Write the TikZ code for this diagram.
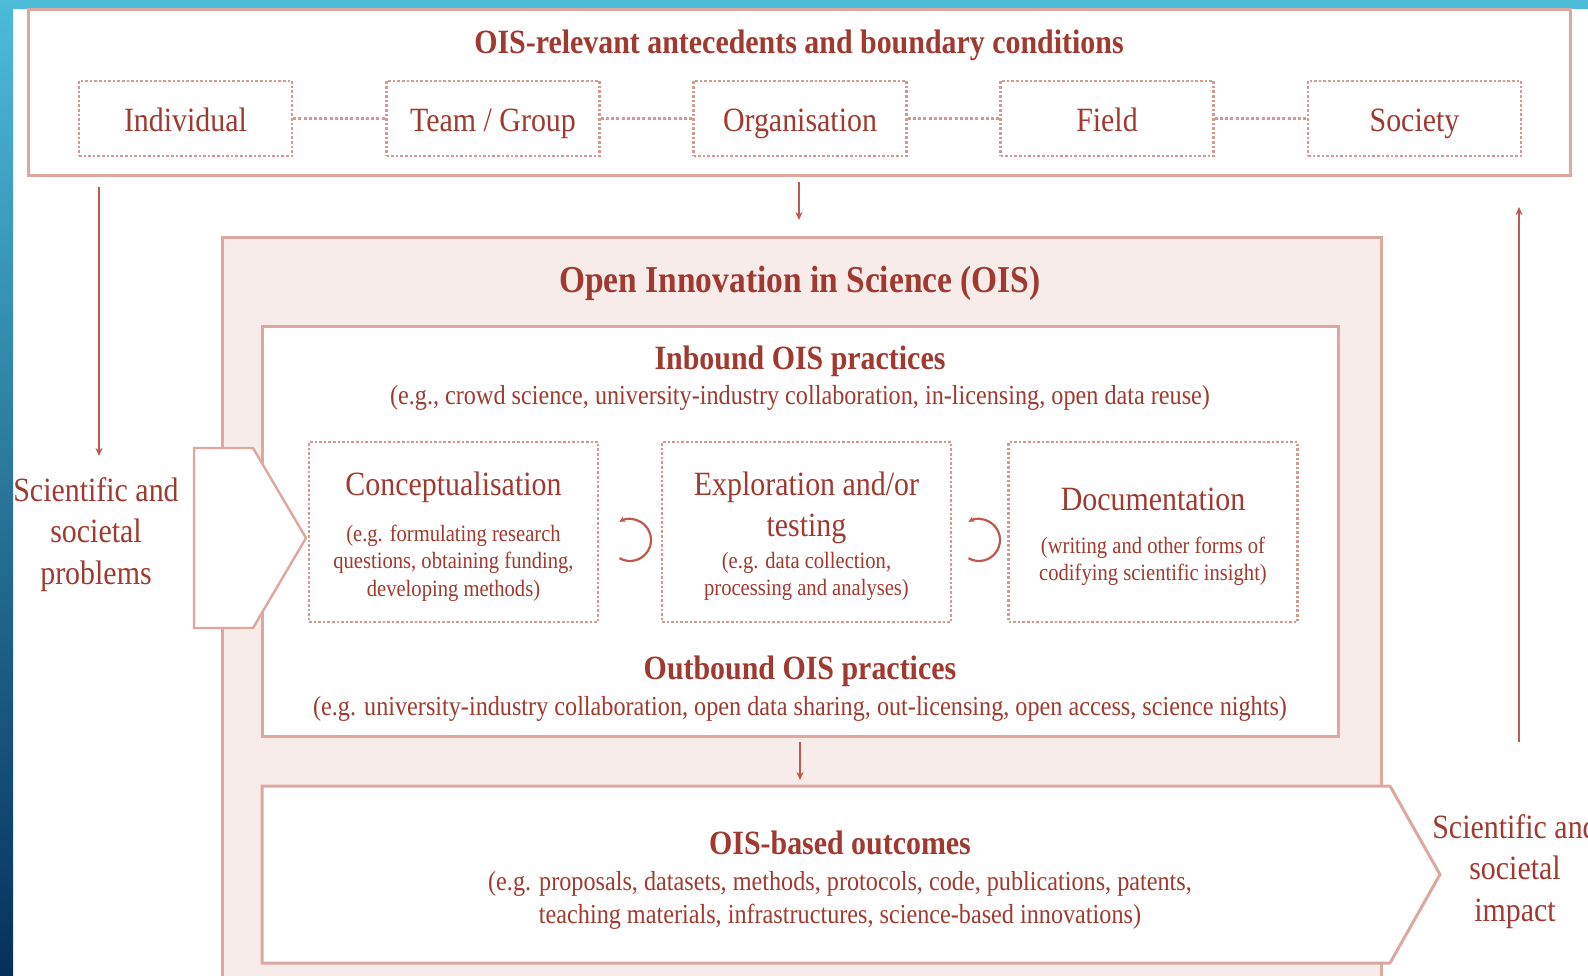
\documentclass[tikz,border=0pt]{standalone}
\usepackage{fontspec}
\setmainfont{Liberation Serif}[FakeStretch=0.88]
\usetikzlibrary{arrows.meta}
\definecolor{txt}{HTML}{A0392F}
\definecolor{bord}{HTML}{DDA8A0}
\definecolor{dotc}{HTML}{D49A92}
\definecolor{fillp}{HTML}{F7ECEA}
\definecolor{arr}{HTML}{C0584D}
\definecolor{skyA}{HTML}{4CBCD9}
\definecolor{navy}{HTML}{06305A}
\newcommand\fsz[2]{\fontsize{#1}{#2}\selectfont}
\tikzset{
  solidbox/.style={draw=bord, line width=3pt, inner sep=0pt},
  dotbox/.style={draw=dotc, line width=2.4pt, dash pattern=on 2.6pt off 2pt, inner sep=0pt},
  levelbox/.style={dotbox, minimum width=213pt, minimum height=75pt, text=txt, font=\fsz{34}{40}, text height=30pt, text depth=3pt},
  stagebox/.style={dotbox, minimum width=289pt, minimum height=180pt},
  dotline/.style={draw=dotc, line width=2.2pt, dash pattern=on 3pt off 2.2pt},
  conn/.style={draw=arr, line width=1.6pt, -{Stealth[length=8pt,width=7pt]}},
  cyc/.style={draw=arr, line width=2.2pt, -{Stealth[length=6pt,width=6pt]}},
  head/.style={text=txt, font=\bfseries\fsz{34}{40}, inner sep=0pt, yshift=-3pt},
  sub/.style={text=txt, font=\fsz{27.5}{33}, inner sep=0pt, align=center, yshift=-3pt},
  small/.style={text=txt, font=\fsz{23.4}{27.5}, inner sep=0pt, align=center, yshift=-3pt},
  big/.style={text=txt, font=\fsz{34}{41.5}, inner sep=0pt, align=center, yshift=-3pt},
}
\begin{document}
\begin{tikzpicture}[x=1pt,y=-1pt]
\useasboundingbox (0,0) rectangle (1588,976);
\clip (0,0) rectangle (1588,976);
% background
\fill[white] (0,0) rectangle (1588,976);
\fill[skyA] (0,0) rectangle (1588,9);
\shade[top color=skyA, bottom color=navy] (0,0) rectangle (13,976);

% top box
\node[solidbox, minimum width=1542pt, minimum height=166pt] (top) at (799,93) {};
\node[head] (toptitle) at (799,42) {OIS-relevant antecedents and boundary conditions};
\node[levelbox] (ind)  at (185.5,118.5) {Individual};
\node[levelbox] (team) at (493,118.5) {Team / Group};
\node[levelbox] (org)  at (800,118.5) {Organisation};
\node[levelbox] (fld)  at (1107,118.5) {Field};
\node[levelbox] (soc)  at (1414.5,118.5) {Society};
\draw[dotline] (ind) -- (team);
\draw[dotline] (team) -- (org);
\draw[dotline] (org) -- (fld);
\draw[dotline] (fld) -- (soc);

% big OIS box
\node[solidbox, fill=fillp, minimum width=1159pt, minimum height=800pt, anchor=north west] (ois) at (221,236) {};
\node[head, font=\bfseries\fsz{38}{44}] (oistitle) at (800,280) {Open Innovation in Science (OIS)};

% inner practices box
\node[solidbox, fill=white, minimum width=1076pt, minimum height=409pt] (inner) at (800,531.5) {};
\node[head] (inb) at (800,358) {Inbound OIS practices};
\node[sub] (inbsub) at (800,395) {(e.g., crowd science, university-industry collaboration, in-licensing, open data reuse)};
\node[head] (outb) at (800,668) {Outbound OIS practices};
\node[sub] (outbsub) at (800,706) {(e.g. university-industry collaboration, open data sharing, out-licensing, open access, science nights)};

% stage boxes
\node[stagebox] (concept) at (453.5,532) {};
\node[stagebox] (explore) at (806.5,532) {};
\node[stagebox] (doc) at (1153,532) {};
\node[big] (conceptT) at (453.5,484) {Conceptualisation};
\node[small] (conceptS) at (453.5,560) {(e.g. formulating research\\questions, obtaining funding,\\developing methods)};
\node[big] (exploreT) at (806.5,505) {Exploration and/or\\testing};
\node[small] (exploreS) at (806.5,573.5) {(e.g. data collection,\\processing and analyses)};
\node[big] (docT) at (1153,496) {Documentation};
\node[small] (docS) at (1153,558.5) {(writing and other forms of\\codifying scientific insight)};

% cycle arrows
\coordinate (cyc1) at (630,540);
\coordinate (cyc2) at (979,540);
\draw[cyc] (cyc1) ++(120:21) arc[start angle=120, end angle=-120, radius=21];
\draw[cyc] (cyc2) ++(120:21) arc[start angle=120, end angle=-120, radius=21];

% outcomes pentagon
\draw[draw=bord, fill=white, line width=3pt, line join=miter] (262,786) -- (1390,786) -- (1440,874.5) -- (1390,963) -- (262,963) -- cycle;
\node[head] (outc) at (840,840) {OIS-based outcomes};
\node[sub] (outcsub) at (840,897) {(e.g. proposals, datasets, methods, protocols, code, publications, patents,\\teaching materials, infrastructures, science-based innovations)};

% left input pentagon
\draw[draw=bord, fill=white, line width=2.4pt, line join=miter] (194,448) -- (253,448) -- (306,538) -- (253,628) -- (194,628) -- cycle;

% side texts
\node[big] (probl) at (96,531.5) {Scientific and\\societal\\problems};
\node[big] (impact) at (1515,868.5) {Scientific and\\societal\\impact};

% connectors
\coordinate (topmid) at (799,182);
\coordinate (oistop) at (799,220);
\draw[conn] (topmid) -- (oistop);
\coordinate (lefttop) at (99,187);
\coordinate (leftend) at (99,456);
\draw[conn] (lefttop) -- (leftend);
\coordinate (rightbot) at (1519,742);
\coordinate (righttop) at (1519,207);
\draw[conn] (rightbot) -- (righttop);
\coordinate (innbot) at (800,742);
\coordinate (outtop) at (800,780);
\draw[conn] (innbot) -- (outtop);
\end{tikzpicture}
\end{document}
